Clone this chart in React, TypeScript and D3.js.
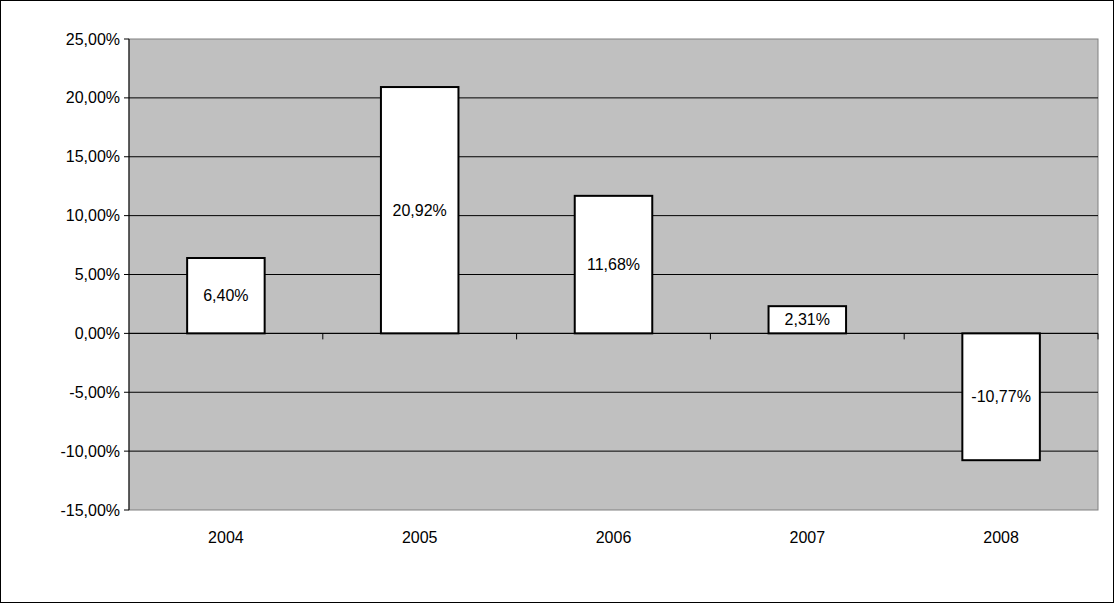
import React from 'react';
import * as d3 from 'd3';

const years = ['2004', '2005', '2006', '2007', '2008'];
const returns = [6.4, 20.92, 11.68, 2.31, -10.77];
const yTicks = [25, 20, 15, 10, 5, 0, -5, -10, -15];

const W = 1114;
const H = 603;
const left = 129;
const right = 1098;
const top = 39;
const bottom = 510;

const fmt = (v: number) => v.toFixed(2).replace('.', ',') + '%';

export default function App() {
  const x = d3.scaleBand().domain(years).range([left, right]).paddingInner(0.6).paddingOuter(0.3);
  const y = d3.scaleLinear().domain([-15, 25]).range([bottom, top]);
  const band = d3.scaleBand().domain(years).range([left, right]);
  const font = 'Liberation Sans, Arial, sans-serif';

  return (
    <svg width={W} height={H} style={{ position: 'absolute', left: 0, top: 0 }} fontFamily={font}>
      <rect x={0.5} y={0.5} width={W - 1} height={H - 1} fill="#fff" stroke="#000" />
      <rect x={left} y={top} width={right - left} height={bottom - top} fill="#c0c0c0" stroke="#808080" />
      {yTicks.map(t => (
        <g key={t}>
          {t !== -15 && t !== 25 && (
            <line x1={left} x2={right} y1={y(t)} y2={y(t)} stroke="#000" />
          )}
          <line x1={left - 5} x2={left} y1={y(t)} y2={y(t)} stroke="#000" />
          <text x={left - 9} y={y(t)} dy="0.35em" textAnchor="end" fontSize={16}>
            {fmt(t)}
          </text>
        </g>
      ))}
      <line x1={left} x2={left} y1={top} y2={bottom} stroke="#000" />
      {years.map((yr, i) => (
        <line key={yr} x1={band(yr)! + band.bandwidth()} x2={band(yr)! + band.bandwidth()} y1={y(0)} y2={y(0) + 6} stroke="#000" />
      ))}
      {years.map((yr, i) => {
        const v = returns[i];
        const y0 = y(Math.max(0, v));
        const y1 = y(Math.min(0, v));
        const cx = x(yr)! + x.bandwidth() / 2;
        return (
          <g key={yr}>
            <rect x={x(yr)} y={y0} width={x.bandwidth()} height={y1 - y0} fill="#fff" stroke="#000" strokeWidth={2} />
            <text x={cx} y={(y0 + y1) / 2} dy="0.35em" textAnchor="middle" fontSize={16}>
              {fmt(v)}
            </text>
            <text x={band(yr)! + band.bandwidth() / 2} y={bottom + 27} dy="0.35em" textAnchor="middle" fontSize={16}>
              {yr}
            </text>
          </g>
        );
      })}
      <line x1={left} x2={right} y1={y(0)} y2={y(0)} stroke="#000" />
    </svg>
  );
}
